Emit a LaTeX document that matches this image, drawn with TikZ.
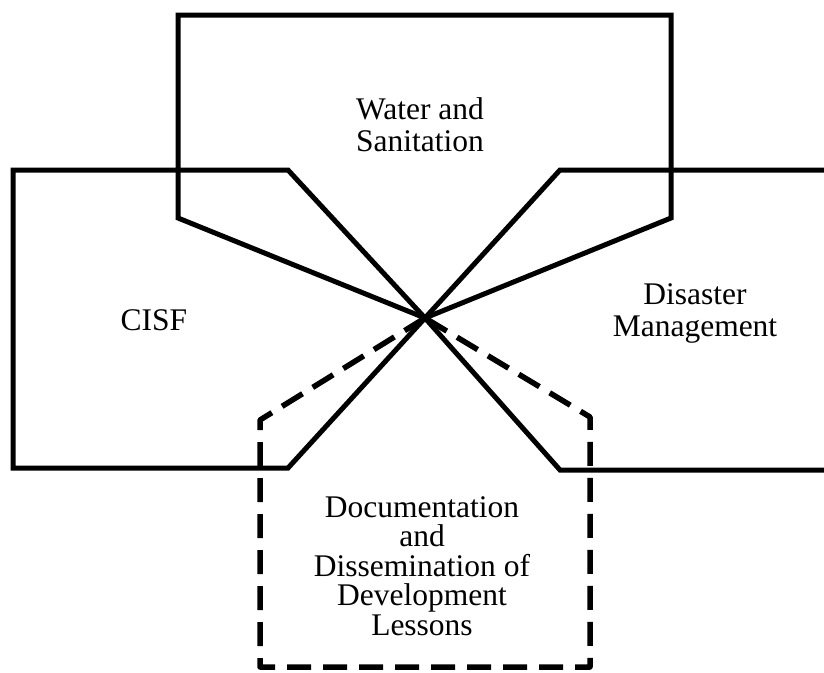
\documentclass[tikz,border=0pt]{standalone}
\usepackage{fontspec}
\setmainfont{Liberation Serif}
\usetikzlibrary{positioning}
\tikzset{
  edge/.style={draw=black,line width=5pt,line join=miter},
  dashedge/.style={draw=black,line width=5.5pt,dash pattern=on 24pt off 12pt,line join=round},
  lbl/.style={align=center,inner sep=0pt,font=\fontsize{31.5}{32}\selectfont},
}
\begin{document}
\begin{tikzpicture}[x=1pt,y=-1pt]
  \useasboundingbox (0,0) rectangle (824,672);
  \coordinate (hub) at (425,318);
  \draw[edge] (hub) -- (178,218) -- (178,15) -- (671,15) -- (671,218) -- cycle;
  \draw[edge] (hub) -- (288,170) -- (13,170) -- (13,468) -- (288,468) -- cycle;
  \draw[edge] (830,170) -- (560,170) -- (hub) -- (560,470) -- (830,470);
  \draw[dashedge] (hub) -- (260,420) -- (260,667) -- (590,667) -- (590,417) -- cycle;
  \node[lbl] (wat) at (420,125) {Water and\\Sanitation};
  \node[lbl] (cisf) at (154,320) {CISF};
  \node[lbl] (dis) at (695,313) {Disaster\\Management};
  \node[lbl,font=\fontsize{31.5}{29.5}\selectfont] (doc) at (422,566) {Documentation\\and\\Dissemination of\\Development\\Lessons};
\end{tikzpicture}
\end{document}
